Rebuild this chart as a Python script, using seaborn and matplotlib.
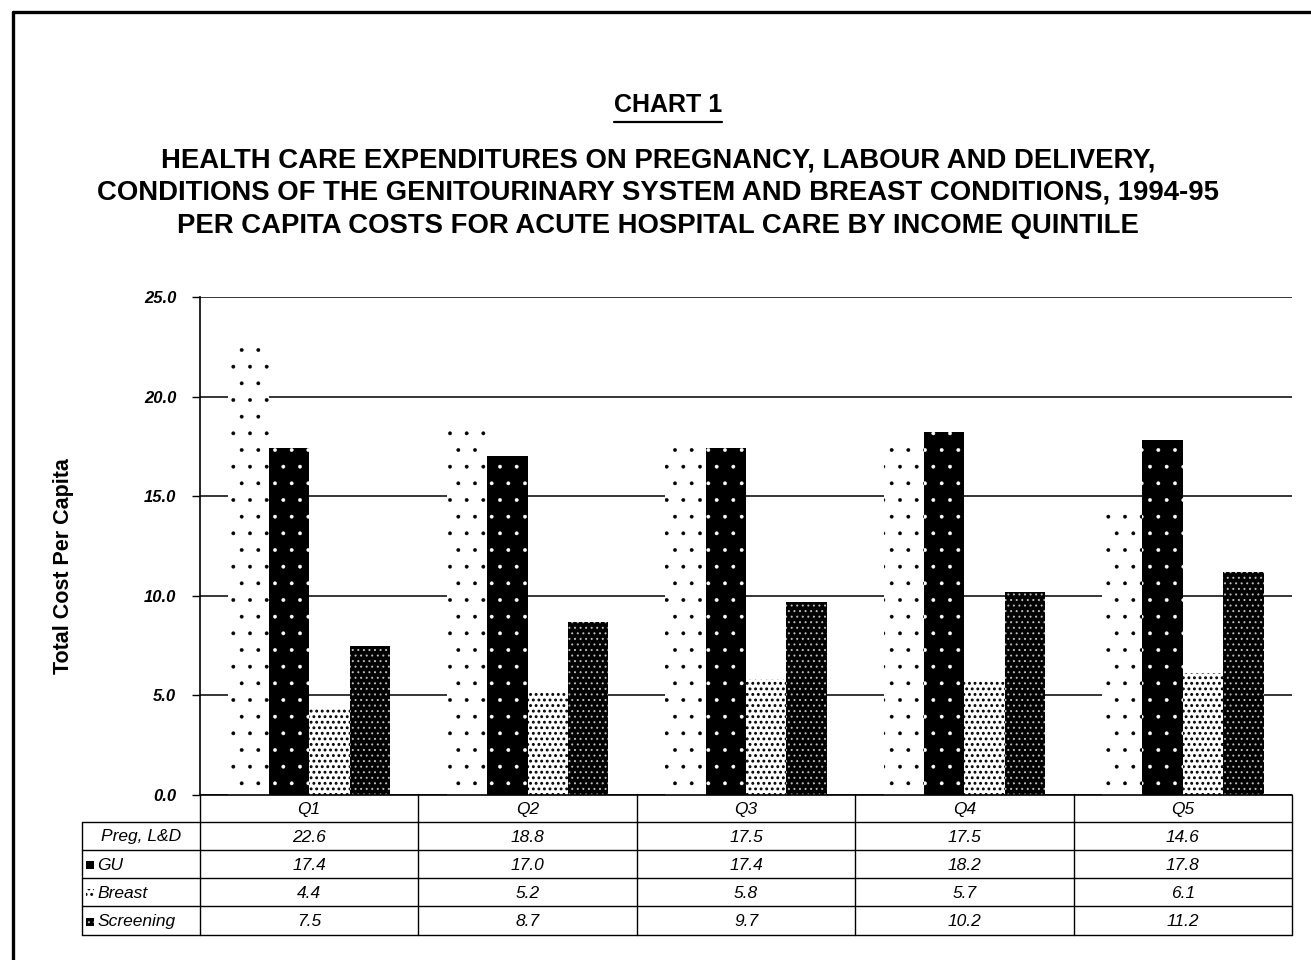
import matplotlib
matplotlib.use("Agg")
import matplotlib.pyplot as plt
from matplotlib.lines import Line2D
from matplotlib.patches import Rectangle
import seaborn as sns
import pandas as pd

# ---- data -------------------------------------------------------------
quintiles = ["Q1", "Q2", "Q3", "Q4", "Q5"]
series_names = ["Preg, L&D", "GU", "Breast", "Screening"]
preg = [22.6, 18.8, 17.5, 17.5, 14.6]
gu = [17.4, 17.0, 17.4, 18.2, 17.8]
breast = [4.4, 5.2, 5.8, 5.7, 6.1]
screening = [7.5, 8.7, 9.7, 10.2, 11.2]
y_ticks = [0, 5, 10, 15, 20, 25]

series_values = [preg, gu, breast, screening]

# bar styling per series: face colour, hatch, hatch colour, dot stroke width
faces = ["white", "black", "white", "black"]
hatches = [".", ".", "...", "..."]
hatch_cols = ["black", "white", "black", "#bdbdbd"]
hatch_lws = [0.3, 0.3, 1.3, 0.7]

sns.set_theme(style="white")
plt.rcParams["font.family"] = ["Liberation Sans", "DejaVu Sans"]
plt.rcParams["text.color"] = "black"
plt.rcParams["axes.labelcolor"] = "black"
plt.rcParams["xtick.color"] = "black"
plt.rcParams["ytick.color"] = "black"
plt.rcParams["hatch.linewidth"] = 0.3

W, H = 1311, 960
fig = plt.figure(figsize=(W / 100, H / 100), dpi=100)
fig.patch.set_facecolor("white")

# plot area (pixels measured from the top-left corner)
ax_l, ax_r, ax_t, ax_b = 200, 1292, 297, 795
ax = fig.add_axes([ax_l / W, 1 - ax_b / H, (ax_r - ax_l) / W, (ax_b - ax_t) / H])

df = pd.DataFrame(
    [(q, s, v) for s, vals in zip(series_names, series_values) for q, v in zip(quintiles, vals)],
    columns=["quintile", "series", "cost"],
)
sns.barplot(
    data=df, x="quintile", y="cost", hue="series", order=quintiles,
    hue_order=series_names, palette=faces, width=0.74, gap=0,
    linewidth=0, legend=False, ax=ax, errorbar=None,
)


def style_patch(p, k):
    p.set_facecolor(faces[k])
    p.set_edgecolor(hatch_cols[k])
    p.set_hatch(hatches[k])
    p.set_linewidth(0)
    if hasattr(p, "set_hatch_linewidth"):
        p.set_hatch_linewidth(hatch_lws[k])


for k, cont in enumerate(ax.containers):
    for bar in cont:
        style_patch(bar, k)

ax.set_xlim(-0.5, len(quintiles) - 0.5)
ax.set_ylim(0, 25)
ax.set_yticks(y_ticks)
ax.set_yticklabels([f"{t:.1f}" for t in y_ticks], fontsize=12,
                   fontweight="bold", fontstyle="italic")
ax.set_xticks([])
ax.set_xlabel("")
ax.set_ylabel("")
ax.tick_params(axis="y", left=True, length=6, width=1, color="black", pad=11)
ax.set_axisbelow(True)
ax.yaxis.grid(True, color="black", linewidth=1.1)
ax.xaxis.grid(False)
for side in ["top", "right", "bottom"]:
    ax.spines[side].set_visible(False)
ax.spines["left"].set_color("black")
ax.spines["left"].set_linewidth(1.2)
ax.set_facecolor("none")

# ---- overlay in pixel coordinates for frame, titles and data table ----
ov = fig.add_axes([0, 0, 1, 1], facecolor="none")
ov.set_xlim(0, W)
ov.set_ylim(H, 0)
ov.axis("off")

# page frame
ov.add_line(Line2D([13, 13], [H, 11.5], color="black", lw=2.4))
ov.add_line(Line2D([13, W], [11.5, 11.5], color="black", lw=2.4))

# titles
ov.text(668, 105, "CHART 1", ha="center", va="center", fontsize=18, fontweight="bold")
ov.add_line(Line2D([614, 722], [122, 122], color="black", lw=1.6))
title_lines = [
    "HEALTH CARE EXPENDITURES ON PREGNANCY, LABOUR AND DELIVERY,",
    "CONDITIONS OF THE GENITOURINARY SYSTEM AND BREAST CONDITIONS, 1994-95",
    "PER CAPITA COSTS FOR ACUTE HOSPITAL CARE BY INCOME QUINTILE",
]
for i, line in enumerate(title_lines):
    ov.text(658, 160 + 33 * i, line, ha="center", va="center", fontsize=19.8,
            fontweight="bold")

ov.text(64, 566, "Total Cost Per Capita", rotation=90, ha="center", va="center",
        fontsize=15.5, fontweight="bold")

# data table under the bars
col_x = [ax.transData.transform((i - 0.5, 0))[0] for i in range(len(quintiles) + 1)]
lab_l = 82
head_t, row_edges = ax_b, [822, 850, 878, 906, 935]
lw_t = 1.0
ov.add_line(Line2D([col_x[0], col_x[-1]], [head_t, head_t], color="black", lw=1.2))
for y in row_edges:
    ov.add_line(Line2D([lab_l, col_x[-1]], [y, y], color="black", lw=lw_t))
for x in col_x:
    ov.add_line(Line2D([x, x], [head_t, row_edges[-1]], color="black", lw=lw_t))
ov.add_line(Line2D([lab_l, lab_l], [row_edges[0], row_edges[-1]], color="black", lw=lw_t))

txt_kw = dict(ha="center", va="center", fontsize=12.5, fontstyle="italic")
for i, q in enumerate(quintiles):
    xc = (col_x[i] + col_x[i + 1]) / 2
    ov.text(xc, (head_t + row_edges[0]) / 2 + 1, q, **txt_kw)
    for r, vals in enumerate(series_values):
        yc = (row_edges[r] + row_edges[r + 1]) / 2 + 1
        ov.text(xc, yc, f"{vals[i]:.1f}", **txt_kw)

for r, name in enumerate(series_names):
    yc = (row_edges[r] + row_edges[r + 1]) / 2 + 1
    if r == 0:
        ov.text((lab_l + col_x[0]) / 2, yc, name, **txt_kw)
    else:
        key = Rectangle((85.5, yc - 4), 8, 8)
        ov.add_patch(key)
        style_patch(key, r)
        ov.text(97, yc, name, ha="left", va="center", fontsize=12.5, fontstyle="italic")

fig.savefig("out.png", dpi=100, facecolor="white")
